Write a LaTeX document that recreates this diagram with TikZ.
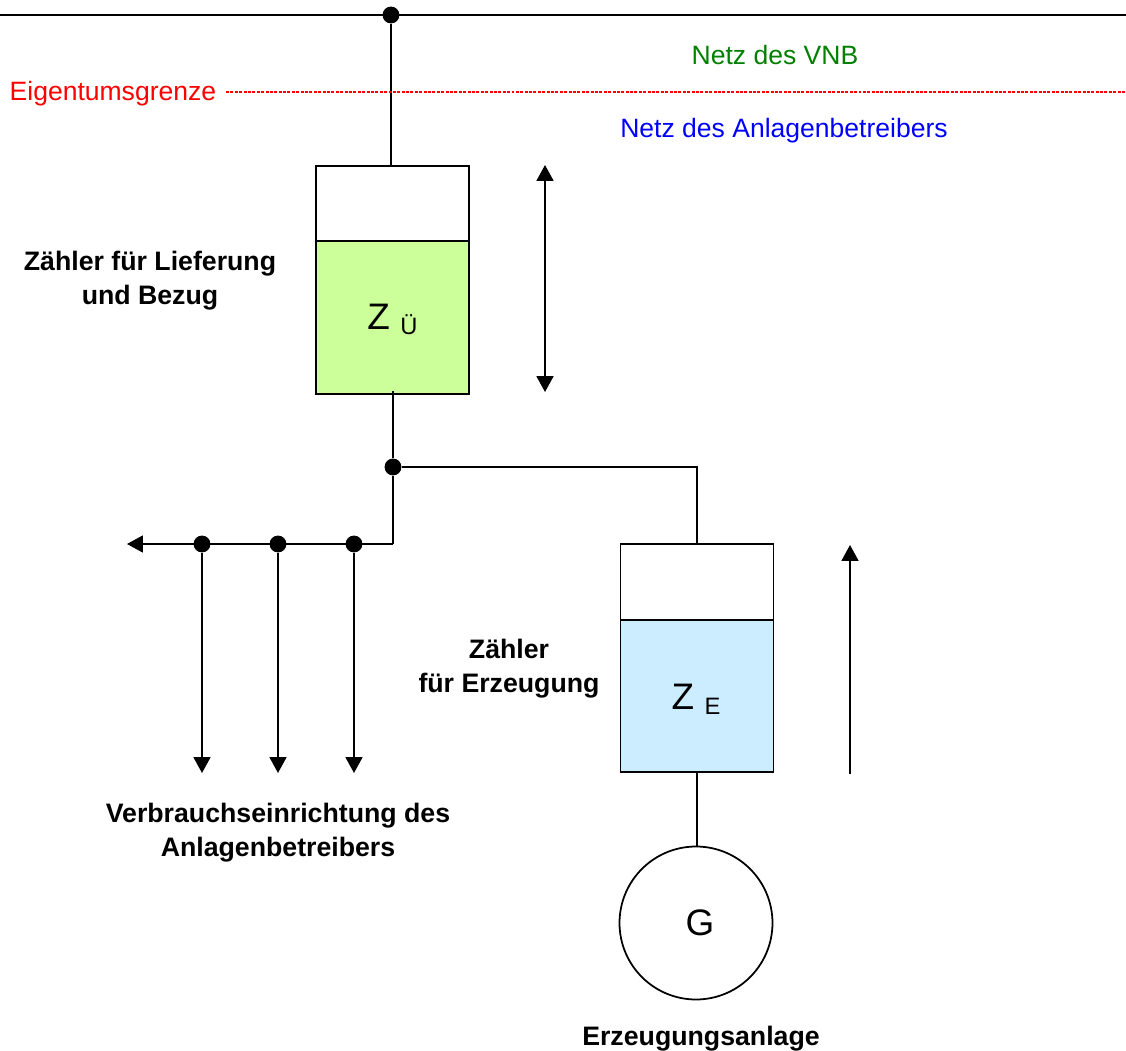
\documentclass[tikz,border=0pt]{standalone}
\usepackage{fontspec}
\setmainfont{Liberation Sans}
\usetikzlibrary{arrows.meta}
\tikzset{
	wire/.style={line width=1pt},
	pfeil/.style={line width=1pt,-{Triangle[length=9pt,width=9.6pt]}},
	punkt/.style={circle,fill=black,inner sep=0pt,minimum size=9.6pt},
	kasten/.style={draw,line width=1pt,inner sep=0pt,outer sep=0pt,minimum width=3.06cm},
	txt/.style={font=\fontsize{15.1}{15}\selectfont,inner sep=0pt},
	fett/.style={font=\fontsize{15.2}{19.4}\selectfont\bfseries,align=center,inner sep=0pt},
}
\definecolor{zgruen}{HTML}{CCFF99}
\definecolor{zblau}{HTML}{CCECFF}
\definecolor{netzgruen}{HTML}{008000}
\newcommand{\zname}[2]{\fontsize{21}{21}\selectfont #1\hspace{6pt}\raisebox{-3pt}{\fontsize{13.5}{14}\selectfont #2}}
\begin{document}
\begin{tikzpicture}[x=0.02cm,y=-0.02cm]
	\useasboundingbox (0,0) rectangle (1126,1051);
	\coordinate (busl) at (0,15);
	\coordinate (busr) at (1126,15);
	\node[punkt] (d1) at (391,15) {};
	\draw[wire] (busl) -- (busr);
	\node[kasten,minimum height=1.5cm] (zoben) at (392.5,203.5) {};
	\node[kasten,minimum height=3.06cm,fill=zgruen] (zue) at (392.5,317.5) {};
	\draw[line width=1.6pt] (zue.south west) -- (zue.south east);
	\draw[wire] (d1) -- (d1 |- zoben.north);
	\node[txt,red,anchor=east] (grenze) at (216.5,94) {Eigentumsgrenze};
	\coordinate (grenzel) at (226,92);
	\coordinate (grenzer) at (1126,92);
	\draw[red,line width=0.7pt,dash pattern=on 1.7pt off 0.8pt] (grenzel) -- (grenzer);
	\node[txt,netzgruen] (vnb) at (775,55) {Netz des VNB};
	\node[txt,blue] (betreiber) at (784,131) {Netz des Anlagenbetreibers};
	\node[anchor=base,inner sep=0pt] (zuet) at (392.5,329) {\zname{Z}{Ü}};
	\node[fett] (lief) at (150,281) {Zähler für Lieferung\\und Bezug};
	\coordinate (p1o) at (545,165);
	\coordinate (p1u) at (545,392);
	\draw[pfeil,{Triangle[length=9pt,width=9.6pt]}-{Triangle[length=9pt,width=9.6pt]}] (p1o) -- (p1u);
	\node[punkt] (d2) at (393,467) {};
	\node[kasten,minimum height=1.52cm] (eoben) at (697,582) {};
	\node[kasten,minimum height=3.04cm,fill=zblau] (ze) at (697,696) {};
	\node[anchor=base,inner sep=0pt] (zet) at (696,709) {\zname{Z}{E}};
	\node[fett] (erz) at (509,669) {Zähler\\für Erzeugung};
	\coordinate (ecke) at (393,544);
	\draw[wire] (d2 |- zue.south) ++(0,-3) -- (d2) -- (ecke);
	\draw[wire] (d2) -| (eoben.north);
	\node[punkt] (v1) at (354,544) {};
	\node[punkt] (v2) at (278,544) {};
	\node[punkt] (v3) at (202,544) {};
	\coordinate (vl) at (127,544);
	\coordinate (u1) at (354,773);
	\coordinate (u2) at (278,773);
	\coordinate (u3) at (202,773);
	\draw[pfeil] (ecke) -- (vl);
	\draw[pfeil] (v1) -- (u1);
	\draw[pfeil] (v2) -- (u2);
	\draw[pfeil] (v3) -- (u3);
	\node[fett] (verb) at (278,832.5) {Verbrauchseinrichtung des\\Anlagenbetreibers};
	\coordinate (p2u) at (850,774);
	\coordinate (p2o) at (850,545);
	\draw[pfeil] (p2u) -- (p2o);
	\node[circle,draw,line width=1pt,minimum size=3.06cm,inner sep=0pt] (g) at (696,923) {};
	\node[font=\fontsize{21}{21}\selectfont,inner sep=0pt] (gtxt) at (700,923) {G};
	\draw[wire] (ze.south) -- (ze.south |- g.north);
	\node[fett] (anl) at (701,1039) {Erzeugungsanlage};
\end{tikzpicture}
\end{document}
